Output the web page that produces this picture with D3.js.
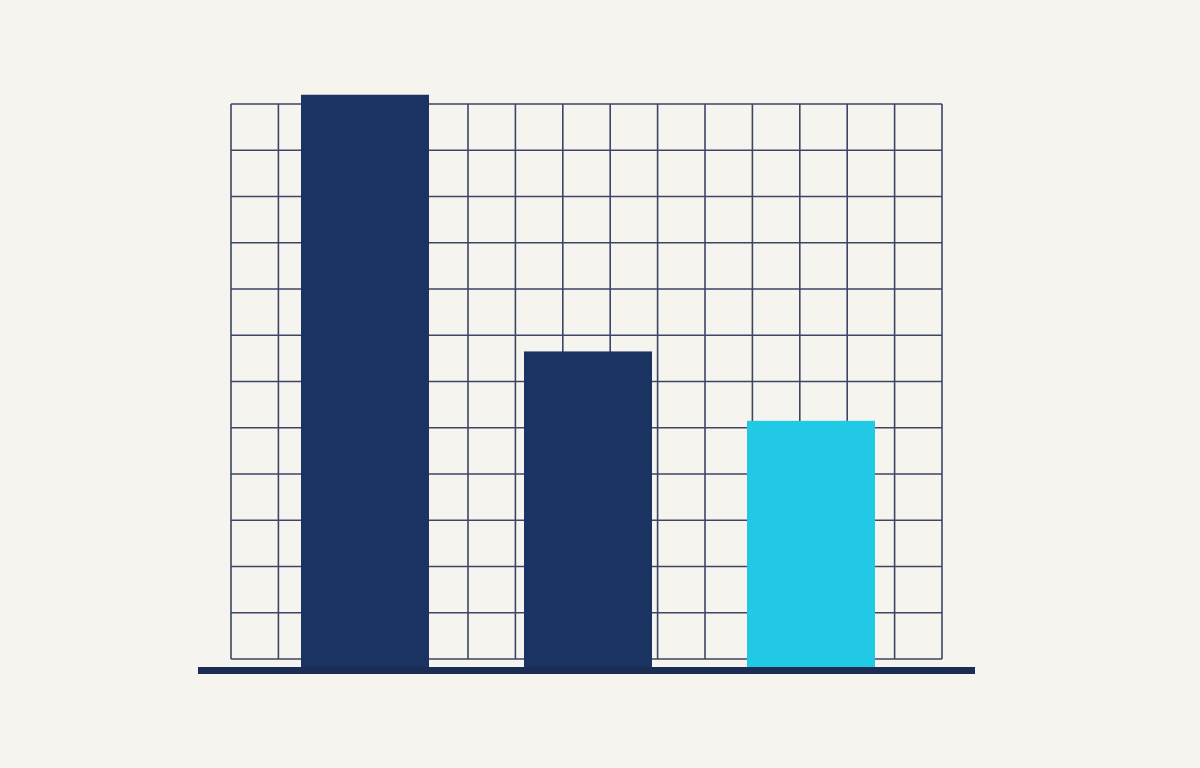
<!DOCTYPE html>
<html>
<head>
<meta charset="utf-8">
<script src="https://cdn.jsdelivr.net/npm/d3@7"></script>
<style>
  html, body { margin: 0; padding: 0; background: #f6f4ee; }
  svg { display: block; }
</style>
</head>
<body>
<svg id="chart" width="1200" height="768"></svg>
<script>
// ---- data ----
const categories = ["A", "B", "C"];
const values = [12.2, 6.65, 5.15];           // in grid-row units above the grid floor
const highlight = [false, false, true];
const gridRows = 12;
const gridCols = 15;

// ---- layout ----
const W = 1200, H = 768;
const gridLeft = 231, gridRight = 942, gridTop = 104, gridBottom = 659;
const baselineY = 670.5;
const svg = d3.select("#chart");
svg.append("rect").attr("width", W).attr("height", H).attr("fill", "#f6f4ee");

const y = d3.scaleLinear().domain([0, gridRows]).range([gridBottom, gridTop]);
const gx = d3.scaleLinear().domain([0, gridCols]).range([gridLeft, gridRight]);
const x = d3.scaleBand().domain(categories).range([301, 875]).paddingInner(0.426).paddingOuter(0);

const gridColor = "#3d4565";
const grid = svg.append("g").attr("stroke", gridColor).attr("stroke-width", 1.6).attr("fill", "none");
grid.selectAll("line.h").data(d3.range(0, gridRows + 1)).join("line")
  .attr("class", "h")
  .attr("x1", gridLeft).attr("x2", gridRight)
  .attr("y1", d => y(d)).attr("y2", d => y(d));
grid.selectAll("line.v").data(d3.range(0, gridCols + 1)).join("line")
  .attr("class", "v")
  .attr("y1", gridTop).attr("y2", gridBottom)
  .attr("x1", d => gx(d)).attr("x2", d => gx(d));

svg.append("g").selectAll("rect").data(categories).join("rect")
  .attr("x", d => x(d))
  .attr("width", x.bandwidth())
  .attr("y", (d, i) => y(values[i]))
  .attr("height", (d, i) => baselineY - y(values[i]))
  .attr("fill", (d, i) => highlight[i] ? "#22c9e5" : "#1b3360");

svg.append("line")
  .attr("x1", 198).attr("x2", 975)
  .attr("y1", baselineY).attr("y2", baselineY)
  .attr("stroke", "#1b2d55").attr("stroke-width", 7);
</script>
</body>
</html>
